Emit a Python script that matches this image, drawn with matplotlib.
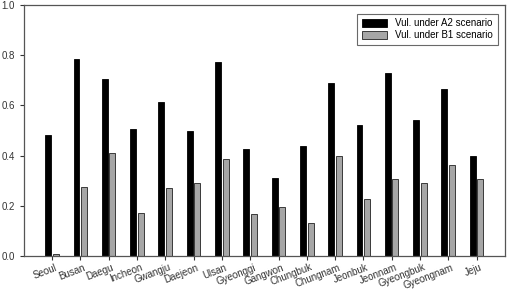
import numpy as np
import matplotlib
matplotlib.use("Agg")
import matplotlib.pyplot as plt
from matplotlib.transforms import ScaledTranslation

regions = ["Seoul", "Busan", "Daegu", "Incheon", "Gwangju", "Daejeon", "Ulsan",
           "Gyeonggi", "Gangwon", "Chungbuk", "Chungnam", "Jeonbuk", "Jeonnam",
           "Gyeongbuk", "Gyeongnam", "Jeju"]
vul_a2 = [0.482, 0.783, 0.705, 0.506, 0.612, 0.497, 0.772, 0.426, 0.312, 0.438,
          0.688, 0.521, 0.728, 0.542, 0.667, 0.400]
vul_b1 = [0.007, 0.276, 0.409, 0.170, 0.272, 0.292, 0.385, 0.167, 0.196, 0.130,
          0.398, 0.227, 0.306, 0.289, 0.364, 0.308]

plt.rcParams['font.family'] = ['Liberation Sans', 'DejaVu Sans']

fig = plt.figure(figsize=(5.08, 2.9), dpi=100)
ax = fig.add_axes([0.047, 0.117, 0.947, 0.866])

x = np.arange(len(regions))
w = 0.21
ax.bar(x - 0.14, vul_a2, w, color="black", edgecolor="black", lw=0.6,
       label="Vul. under A2 scenario")
ax.bar(x + 0.13, vul_b1, w, color="#a6a6a6", edgecolor="#222222", lw=0.6,
       label="Vul. under B1 scenario")

ax.set_xlim(-1, 16)
ax.set_ylim(0, 1.0)
ax.set_yticks(np.arange(0, 1.01, 0.2))
ax.set_yticklabels([f"{v:.1f}" for v in np.arange(0, 1.01, 0.2)])
ax.set_xticks(x)
ax.set_xticklabels(regions, rotation=21, ha="right", rotation_mode="anchor")
ax.tick_params(axis="both", labelsize=7, colors="#333333", length=3, width=0.8,
               direction="out", top=False, right=False)
ax.tick_params(axis="x", pad=1.5)
# nudge labels a little to the right so they end just past the tick
shift = ScaledTranslation(3 / 100, 0, fig.dpi_scale_trans)
for lbl in ax.get_xticklabels():
    lbl.set_transform(lbl.get_transform() + shift)
for s in ax.spines.values():
    s.set_color("#555555")
    s.set_linewidth(0.9)

leg = ax.legend(loc="upper right", fontsize=7, frameon=True, fancybox=False,
                edgecolor="#444444", handlelength=2.6, handleheight=0.8,
                borderpad=0.5, labelspacing=0.2, bbox_to_anchor=(0.995, 0.985))
leg.get_frame().set_linewidth(0.8)

fig.savefig("out.png", dpi=100)
